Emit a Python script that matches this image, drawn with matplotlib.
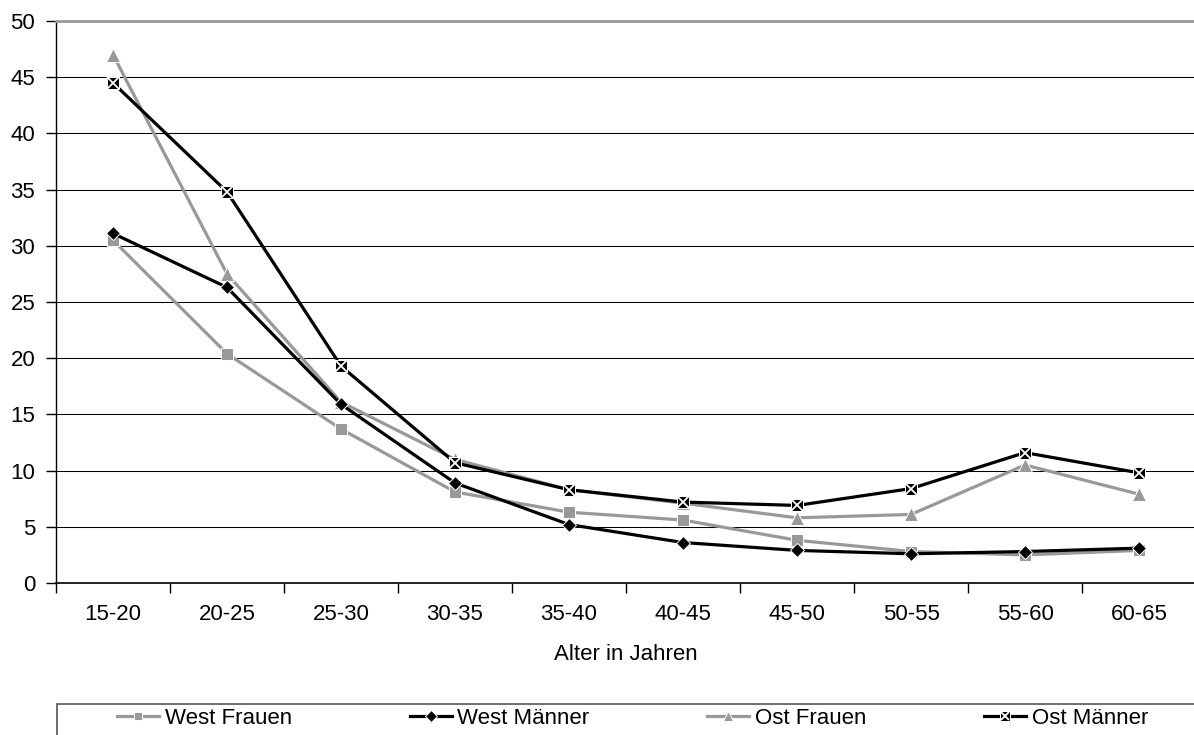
import numpy as np
import matplotlib.pyplot as plt
from matplotlib.patches import Rectangle

# Erwerbslosenquote nach Altersgruppen
groups = ["15-20", "20-25", "25-30", "30-35", "35-40", "40-45", "45-50", "50-55", "55-60", "60-65"]
west_frauen = [30.5, 20.4, 13.7, 8.1, 6.3, 5.6, 3.8, 2.8, 2.5, 2.9]
west_maenner = [31.1, 26.3, 15.9, 8.9, 5.2, 3.6, 2.9, 2.6, 2.8, 3.1]
ost_frauen = [47.0, 27.5, 16.1, 11.0, 8.3, 7.1, 5.8, 6.1, 10.5, 7.9]
ost_maenner = [44.5, 34.8, 19.3, 10.7, 8.3, 7.2, 6.9, 8.4, 11.6, 9.8]
yticks = [0, 5, 10, 15, 20, 25, 30, 35, 40, 45, 50]

plt.rcParams['font.family'] = ['Liberation Sans', 'DejaVu Sans']
fontsize = 16
grey = "#999999"

fig = plt.figure(figsize=(11.94, 7.35), dpi=100)
W, H = 1194, 735
ax = fig.add_axes([56/W, (H-583)/H, 1140/W, 562/H])

x = np.arange(len(groups))
lw = 2.3
ax.plot(x, west_frauen, color=grey, lw=lw, marker="s", ms=8.5, mfc=grey, mec="white", mew=0.7,
        label="West Frauen", zorder=3)
ax.plot(x, west_maenner, color="black", lw=lw, marker="D", ms=7.5, mfc="black", mec="white", mew=0.7,
        label="West Männer", zorder=4)
ax.plot(x, ost_frauen, color=grey, lw=lw, marker="^", ms=10.5, mfc=grey, mec="white", mew=0.7,
        label="Ost Frauen", zorder=3)
om_line, = ax.plot(x, ost_maenner, color="black", lw=lw, marker="s", ms=9, mfc="black", mec="white", mew=0.7,
                   zorder=4)
om_x, = ax.plot(x, ost_maenner, ls="none", marker="x", ms=8, mec="white", mew=1.3, zorder=5)

# axes styling
ax.set_xlim(-0.5, 9.5)
ax.set_ylim(0, 50)
ax.set_yticks(yticks)
ax.yaxis.grid(True, color="black", lw=0.75)
ax.set_axisbelow(True)
ax.spines["right"].set_visible(False)
ax.spines["top"].set_color(grey)
ax.spines["top"].set_linewidth(2)
ax.spines["left"].set_linewidth(1)
ax.spines["bottom"].set_linewidth(1.2)
ax.set_xticks(x)
ax.set_xticklabels(groups)
ax.set_xticks(np.arange(-0.5, 10, 1), minor=True)
ax.tick_params(axis="x", which="major", length=0, pad=15, labelsize=fontsize)
ax.tick_params(axis="x", which="minor", length=7, width=1)
ax.tick_params(axis="y", length=7, width=1, pad=8, labelsize=fontsize)
ax.set_xlabel("Alter in Jahren", fontsize=fontsize, labelpad=14)

# legend box (cut off at right and bottom like the original)
fig.patches.append(Rectangle((57/W, -0.1), 1.0, 0.1 + (H-704)/H, transform=fig.transFigure,
                             fill=False, edgecolor="#555555", lw=1.2))
handles = [ax.lines[0], ax.lines[1], ax.lines[2], (om_line, om_x)]
labels = ["West Frauen", "West Männer", "Ost Frauen", "Ost Männer"]
leg = fig.legend(handles, labels, loc="center left", bbox_to_anchor=(108/W, (H-718)/H), ncol=4,
                 frameon=False, fontsize=fontsize, handlelength=1.9, handletextpad=0.25,
                 columnspacing=5.3, borderaxespad=0, markerscale=0.75)

fig.savefig("out.png", dpi=100)
plt.close(fig)
